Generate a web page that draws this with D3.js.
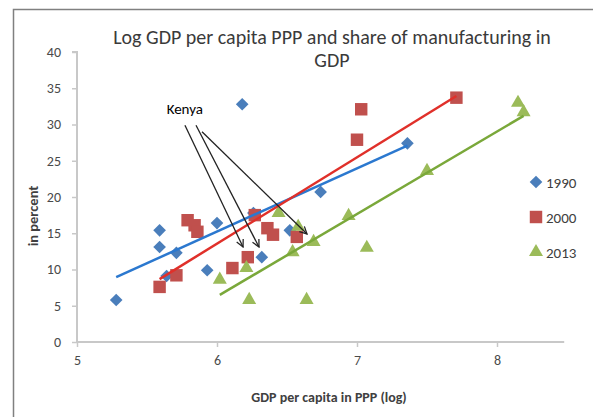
<!DOCTYPE html>
<html>
<head>
<meta charset="utf-8">
<script src="https://cdn.jsdelivr.net/npm/d3@7"></script>
<style>
  body { margin: 0; background: #fff; }
  text { font-family: Carlito, Lato, "Open Sans", sans-serif; }
</style>
</head>
<body>
<svg id="chart" width="593" height="417"></svg>
<script>
// GDP per capita PPP (log) vs manufacturing share (%), one array per year
const data1990 = [
    [5.28, 5.8], [5.59, 15.4], [5.59, 13.1], [5.71, 12.3], [5.64, 9.1],
    [5.93, 9.9], [6.00, 16.4], [6.18, 32.8], [6.26, 17.8], [6.32, 11.7],
    [6.52, 15.4], [6.74, 20.7], [7.36, 27.4]
];
const data2000 = [
    [5.59, 7.6], [5.71, 9.2], [5.79, 16.8], [5.84, 16.1], [5.86, 15.2],
    [6.11, 10.2], [6.22, 11.7], [6.27, 17.5], [6.36, 15.7], [6.40, 14.8],
    [6.57, 14.5], [7.00, 27.9], [7.03, 32.1], [7.71, 33.7]
];
const data2013 = [
    [6.02, 8.6], [6.21, 10.2], [6.23, 5.8], [6.44, 17.8], [6.54, 12.4],
    [6.58, 15.9], [6.64, 5.8], [6.69, 13.8], [6.94, 17.4], [7.07, 13.0],
    [7.50, 23.6], [8.15, 33.0], [8.19, 31.7]
];
const years = ['1990', '2000', '2013'];
const xTicks = [5, 6, 7, 8];
const yTicks = [0, 5, 10, 15, 20, 25, 30, 35, 40];

// Kenya annotation: label anchor and arrows (start -> tip), in data units
const kenyaLabel = [5.77, 32.0];
const kenyaArrows = [
    [[5.771, 29.9], [6.186, 13.1]],
    [[5.850, 29.9], [6.300, 13.1]],
    [[5.893, 29.0], [6.643, 14.9]]
];

// diamond = square turned 45 degrees (Excel style), equal width and height
const diamond = { draw(ctx, size) { const r = Math.sqrt(size / 2); ctx.moveTo(0, -r); ctx.lineTo(r, 0); ctx.lineTo(0, r); ctx.lineTo(-r, 0); ctx.closePath(); } };

const series = [
    { name: years[0], values: data1990, fill: '#4A7EBB', line: '#2B78CF', shape: diamond, size: 80 },
    { name: years[1], values: data2000, fill: '#C0504D', line: '#E0302A', shape: d3.symbolSquare, size: 155 },
    { name: years[2], values: data2013, fill: '#9BBB59', line: '#7AA83A', shape: d3.symbolTriangle, size: 85 }
];

const svg = d3.select('#chart');

svg.append('rect')
    .attr('x', 13.5).attr('y', 9.5)
    .attr('width', 620).attr('height', 440)
    .attr('fill', '#fff')
    .attr('stroke', '#808080')
    .attr('stroke-width', 1.5);

const x = d3.scaleLinear().domain([5, 8.5]).range([77, 567]);
const y = d3.scaleLinear().domain([0, 40]).range([342, 52]);

// axes
const yAxis = svg.append('g')
    .attr('transform', `translate(${x(5)},0)`)
    .call(d3.axisLeft(y).tickValues(yTicks).tickSize(5).tickPadding(11));
const xAxis = svg.append('g')
    .attr('transform', `translate(0,${y(0)})`)
    .call(d3.axisBottom(x).tickValues(xTicks).tickSize(5).tickPadding(8).tickFormat(d3.format('d')));

[yAxis, xAxis].forEach(ax => {
    ax.select('.domain').attr('stroke', '#C8C8C8').attr('stroke-width', 2);
    ax.selectAll('.tick line').attr('stroke', '#C8C8C8').attr('stroke-width', 1.5);
    ax.selectAll('.tick text')
        .attr('fill', '#4a4a4a')
        .style('font-size', '14px')
        .style('font-family', 'Carlito, Lato, "Open Sans", sans-serif');
});
yAxis.select('.domain').attr('d', `M-5,${y(40)}H0V${y(0)}`);
xAxis.select('.domain').attr('d', `M${x(5)},0H${x(8.48)}`);

// markers
const sym = d3.symbol();
series.forEach(s => {
    svg.append('g').selectAll('path')
        .data(s.values)
        .join('path')
            .attr('transform', d => `translate(${x(d[0])},${y(d[1])})`)
            .attr('d', sym.type(s.shape).size(s.size)())
            .attr('fill', s.fill);
});

// linear trendlines (least squares)
series.forEach(s => {
    const mx = d3.mean(s.values, d => d[0]),
        my = d3.mean(s.values, d => d[1]);
    const b = d3.sum(s.values, d => (d[0] - mx) * (d[1] - my)) / d3.sum(s.values, d => (d[0] - mx) ** 2);
    const a = my - b * mx;
    const [x0, x1] = d3.extent(s.values, d => d[0]);
    svg.append('line')
        .attr('x1', x(x0)).attr('y1', y(a + b * x0))
        .attr('x2', x(x1)).attr('y2', y(a + b * x1))
        .attr('stroke', s.line)
        .attr('stroke-width', 2.5);
});

// Kenya arrows
svg.append('defs').append('marker')
    .attr('id', 'arrowhead')
    .attr('viewBox', '0 0 10 10')
    .attr('refX', 9).attr('refY', 5)
    .attr('markerWidth', 9).attr('markerHeight', 9)
    .attr('markerUnits', 'userSpaceOnUse')
    .attr('orient', 'auto')
  .append('path')
    .attr('d', 'M1,1L9,5L1,9')
    .attr('fill', 'none')
    .attr('stroke', '#222')
    .attr('stroke-width', 1.4);

svg.append('g').selectAll('line')
    .data(kenyaArrows)
    .join('line')
        .attr('x1', d => x(d[0][0])).attr('y1', d => y(d[0][1]))
        .attr('x2', d => x(d[1][0])).attr('y2', d => y(d[1][1]))
        .attr('stroke', '#222')
        .attr('stroke-width', 1.3)
        .attr('marker-end', 'url(#arrowhead)');

svg.append('text')
    .attr('x', x(kenyaLabel[0])).attr('y', y(kenyaLabel[1]))
    .attr('text-anchor', 'middle')
    .attr('dominant-baseline', 'middle')
    .style('font-size', '15px')
    .attr('fill', '#000')
    .text('Kenya');

// title
const title = svg.append('text')
    .attr('text-anchor', 'middle')
    .attr('fill', '#3a3a3a')
    .style('font-size', '20px');
title.append('tspan').attr('x', 332).attr('y', 44).text('Log GDP per capita PPP and share of manufacturing in');
title.append('tspan').attr('x', 332).attr('y', 67).text('GDP');

// axis titles
svg.append('text')
    .attr('transform', 'translate(38,216) rotate(-90)')
    .attr('text-anchor', 'middle')
    .attr('fill', '#404040')
    .style('font-size', '14.5px')
    .style('font-weight', 'bold')
    .text('in percent');

svg.append('text')
    .attr('x', 329).attr('y', 402)
    .attr('text-anchor', 'middle')
    .attr('fill', '#404040')
    .style('font-size', '14px')
    .style('font-weight', 'bold')
    .text('GDP per capita in PPP (log)');

// legend
const legend = svg.append('g').selectAll('g')
    .data(series)
    .join('g')
        .attr('transform', (d, i) => `translate(536,${182 + i * 35})`);
legend.append('path')
    .attr('d', d => sym.type(d.shape).size(d.size)())
    .attr('fill', d => d.fill);
legend.append('text')
    .attr('x', 10).attr('y', 1)
    .attr('dominant-baseline', 'central')
    .attr('fill', '#404040')
    .style('font-size', '15px')
    .text(d => d.name);
</script>
</body>
</html>
